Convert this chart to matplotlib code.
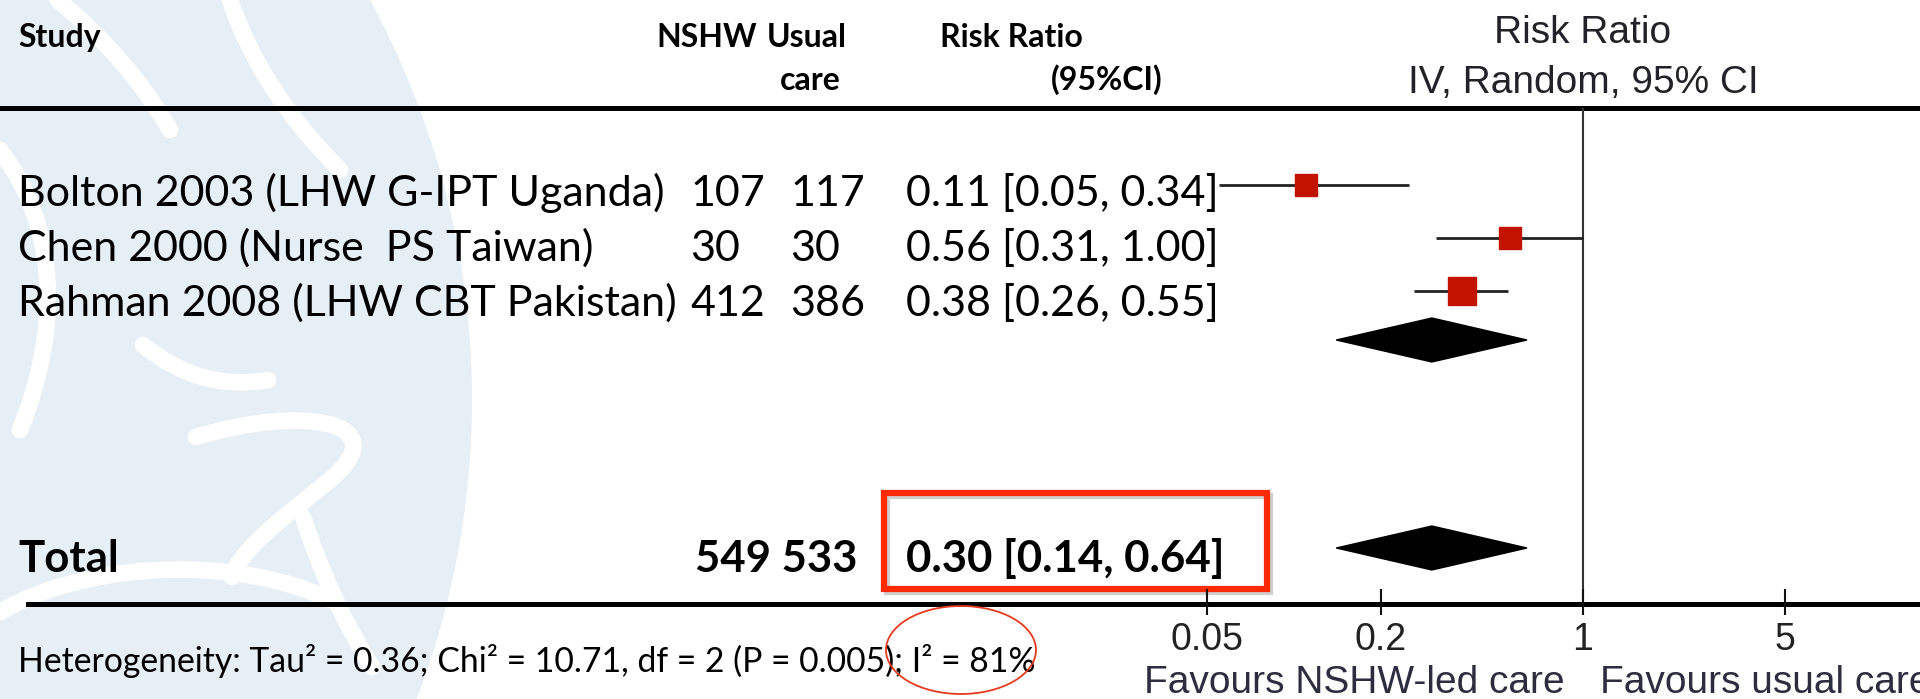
import numpy as np
import matplotlib
matplotlib.use("Agg")
import matplotlib.pyplot as plt
from matplotlib.patches import Polygon, Rectangle, Ellipse, Circle, PathPatch
from matplotlib.path import Path

# ---- data ----
studies = ["Bolton 2003 (LHW G-IPT Uganda)",
           "Chen 2000 (Nurse  PS Taiwan)",
           "Rahman 2008 (LHW CBT Pakistan)"]
n_nshw = [107, 30, 412]
n_usual = [117, 30, 386]
rr = [0.11, 0.56, 0.38]
ci_lo = [0.05, 0.31, 0.26]
ci_hi = [0.34, 1.00, 0.55]
# whiskers as they are drawn (Bolton's line stops short of its printed upper limit)
line_lo = [0.055, 0.31, 0.26]
line_hi = [0.25, 1.00, 0.55]

pooled_rr = 0.30
pooled_lo = 0.14
pooled_hi = 0.64
total_nshw = 549
total_usual = 533

tick_vals = [0.05, 0.2, 1, 5]
tick_labels = ["0.05", "0.2", "1", "5"]
het_text = "Heterogeneity: Tau² = 0.36; Chi² = 10.71, df = 2 (P = 0.005); I² = 81%"

# ---- layout (pixels) ----
W, H = 1920, 699
ref_px, px_dec = 1583, 289
plot_left = 1150
box_px = [22, 22, 28]
calibri = ["Lato", "DejaVu Sans"]
arial = ["Liberation Sans", "DejaVu Sans"]
red = "#C41200"

fig = plt.figure(figsize=(W / 100, H / 100), dpi=100)
bg = fig.add_axes([0, 0, 1, 1])
bg.set_xlim(0, W)
bg.set_ylim(H, 0)
bg.axis("off")

# faint crest watermark on the left
bg.add_patch(Circle((-363, 400), 835, fc="#E6EEF6", ec="none", zorder=0))
M, Q, C = Path.MOVETO, Path.CURVE3, Path.CURVE4
curves = [
    ([(143, 345), (200, 392), (268, 380)], [M, Q, Q]),
    ([(196, 437), (300, 405), (400, 420), (330, 480), (280, 520), (240, 550), (232, 577)],
     [M, C, C, C, C, C, C]),
    ([(303, 517), (330, 600), (372, 667)], [M, Q, Q]),
    ([(0, 612), (100, 555), (250, 560), (330, 600)], [M, C, C, C]),
    ([(58, 0), (130, 60), (170, 130)], [M, Q, Q]),
    ([(0, 150), (60, 230), (60, 330), (20, 430)], [M, C, C, C]),
    ([(230, 0), (260, 90), (340, 170)], [M, Q, Q]),
]
for verts, codes in curves:
    bg.add_patch(PathPatch(Path(verts, codes), fill=False, ec="white", lw=12,
                           capstyle="round", zorder=0.5))

# horizontal rules
bg.plot([0, W], [108, 108], color="black", lw=3.6, zorder=2)
bg.plot([28, W], [604, 604], color="black", lw=3.6, zorder=2)

# ---- column headers ----
hdr = dict(family=calibri, fontsize=23, fontweight="bold", va="baseline")
bg.text(18, 47, "Study", **hdr)
bg.text(757, 47, "NSHW", ha="right", **hdr)
bg.text(767, 47, "Usual", **hdr)
bg.text(810, 90, "care", ha="center", **hdr)
bg.text(940, 47, "Risk Ratio", **hdr)
bg.text(1163, 90, "(95%CI)", ha="right", **hdr)

right_hdr = dict(family=arial, fontsize=28, color="#222228", ha="center", va="baseline")
bg.text(ref_px, 43, "Risk Ratio", **right_hdr)
bg.text(ref_px, 93, "IV, Random, 95% CI", **right_hdr)

# ---- study rows ----
row = dict(family=calibri, fontsize=31, va="baseline")
for i, name in enumerate(studies):
    yb = 206 + 55 * i
    bg.text(18, yb, name, **row)
    bg.text(690, yb, str(n_nshw[i]), **row)
    bg.text(790, yb, str(n_usual[i]), **row)
    bg.text(906, yb, f"{rr[i]:.2f} [{ci_lo[i]:.2f}, {ci_hi[i]:.2f}]", **row)

# total row
tot = dict(family=calibri, fontsize=31.5, fontweight="bold", va="baseline")
bg.text(18, 572, "Total", **tot)
bg.text(857, 572, f"{total_nshw} {total_usual}", ha="right", **tot)
bg.text(906, 572, f"{pooled_rr:.2f} [{pooled_lo:.2f}, {pooled_hi:.2f}]", **tot)

bg.text(18, 672, het_text, family=calibri, fontsize=24.3, va="baseline")

# highlight box (with a soft shadow) and circle
bg.add_patch(Rectangle((887, 496), 383, 96, fill=False, ec="#b0b0b0", lw=4.5,
                       alpha=0.6, zorder=2.9))
bg.add_patch(Rectangle((884, 493), 383, 96, fill=False, ec="#FF2A00", lw=4.5, zorder=3))
bg.add_patch(Ellipse((961, 650), 150, 88, fill=False, ec="#E53A1E", lw=1.3, zorder=3))

# ---- forest plot on log scale ----
fx = fig.add_axes([plot_left / W, 0, (W - plot_left) / W, 1])
fx.set_xscale("log")
fx.set_xlim(10 ** ((plot_left - ref_px) / px_dec), 10 ** ((W - ref_px) / px_dec))
fx.set_ylim(H, 0)
fx.axis("off")
fx.patch.set_alpha(0)

fx.vlines(1, 108, 604, color="#333333", lw=1.5, zorder=1)
fx.vlines(tick_vals, 589, 615, color="#111111", lw=1.5)
for v, lab in zip(tick_vals, tick_labels):
    fx.text(v, 650, lab, family=arial, fontsize=27, color="#222222",
            ha="center", va="baseline")

for i in range(len(studies)):
    y = 185 + 53 * i
    fx.hlines(y, line_lo[i], line_hi[i], color="#222222", lw=2, zorder=2)
    fx.plot(rr[i], y, marker="s", ms=box_px[i] * 0.72, color=red, mec=red, zorder=3)


def diamond(y, est, lo, hi, h=44):
    fx.add_patch(Polygon([(lo, y), (est, y - h / 2), (hi, y), (est, y + h / 2)],
                         closed=True, fc="black", ec="black", zorder=3))


diamond(340, pooled_rr, pooled_lo, pooled_hi)
diamond(548, pooled_rr, pooled_lo, pooled_hi)

# the slide crops the right-hand label at the edge, as here
fav = dict(family=arial, fontsize=28, color="#2d2d40", va="baseline")
fx.text(0.866, 693, "Favours NSHW-led care", ha="right", **fav)
fx.text(1.145, 693, "Favours usual care", ha="left", **fav)

fig.savefig("out.png", dpi=100)
